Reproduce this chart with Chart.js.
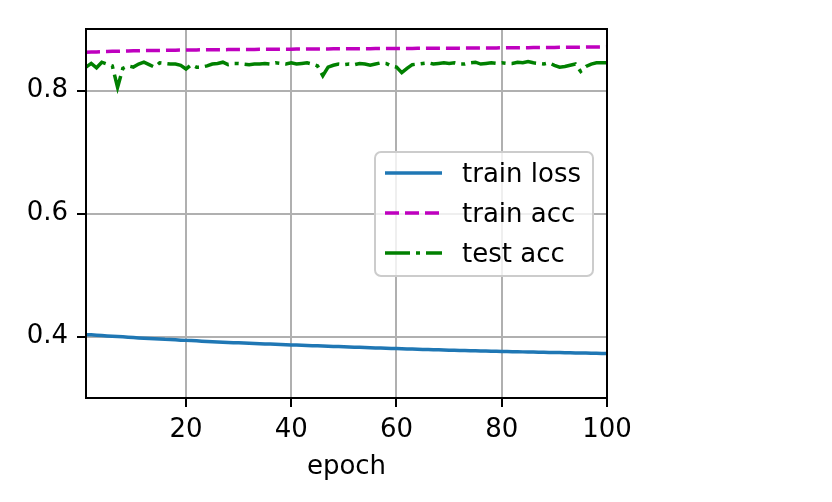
<!DOCTYPE html>
<html>
<head>
<meta charset="utf-8">
<script src="https://cdn.jsdelivr.net/npm/chart.js@4.4.1/dist/chart.umd.min.js"></script>
<style>
  html, body { margin: 0; padding: 0; background: #fff; }
</style>
</head>
<body>
<canvas id="chart" width="832" height="502"></canvas>
<script>
const epochs = Array.from({ length: 100 }, (_, i) => i + 1);

const trainLoss = [
  0.4030, 0.4027, 0.4022, 0.4016, 0.4010, 0.4004, 0.3999, 0.3994, 0.3988, 0.3982,
  0.3977, 0.3973, 0.3969, 0.3965, 0.3961, 0.3955, 0.3952, 0.3946, 0.3941, 0.3937,
  0.3933, 0.3929, 0.3924, 0.3920, 0.3916, 0.3912, 0.3908, 0.3904, 0.3900, 0.3897,
  0.3894, 0.3890, 0.3887, 0.3884, 0.3880, 0.3877, 0.3873, 0.3870, 0.3866, 0.3863,
  0.3860, 0.3857, 0.3854, 0.3851, 0.3848, 0.3845, 0.3842, 0.3839, 0.3836, 0.3833,
  0.3830, 0.3827, 0.3824, 0.3821, 0.3818, 0.3815, 0.3812, 0.3809, 0.3806, 0.3803,
  0.3800, 0.3798, 0.3795, 0.3793, 0.3790, 0.3788, 0.3785, 0.3783, 0.3781, 0.3778,
  0.3776, 0.3774, 0.3772, 0.3770, 0.3768, 0.3766, 0.3764, 0.3762, 0.3760, 0.3758,
  0.3756, 0.3754, 0.3752, 0.3750, 0.3748, 0.3746, 0.3745, 0.3743, 0.3741, 0.3739,
  0.3738, 0.3736, 0.3735, 0.3733, 0.3731, 0.3730, 0.3728, 0.3727, 0.3725, 0.3724
];

const trainAcc = [
  0.8620, 0.8625, 0.8628, 0.8632, 0.8634, 0.8637, 0.8639, 0.8641, 0.8643, 0.8645,
  0.8646, 0.8648, 0.8649, 0.8651, 0.8652, 0.8653, 0.8655, 0.8656, 0.8657, 0.8658,
  0.8659, 0.8660, 0.8661, 0.8662, 0.8662, 0.8663, 0.8664, 0.8665, 0.8665, 0.8666,
  0.8667, 0.8667, 0.8668, 0.8669, 0.8669, 0.8670, 0.8670, 0.8671, 0.8672, 0.8672,
  0.8673, 0.8673, 0.8674, 0.8674, 0.8675, 0.8676, 0.8676, 0.8677, 0.8677, 0.8678,
  0.8678, 0.8679, 0.8679, 0.8680, 0.8680, 0.8681, 0.8681, 0.8682, 0.8682, 0.8683,
  0.8683, 0.8684, 0.8684, 0.8685, 0.8685, 0.8686, 0.8686, 0.8687, 0.8688, 0.8688,
  0.8689, 0.8689, 0.8690, 0.8690, 0.8691, 0.8692, 0.8692, 0.8693, 0.8693, 0.8694,
  0.8695, 0.8695, 0.8696, 0.8697, 0.8697, 0.8698, 0.8699, 0.8699, 0.8700, 0.8701,
  0.8702, 0.8702, 0.8703, 0.8704, 0.8705, 0.8706, 0.8707, 0.8708, 0.8709, 0.8711
];

const testAcc = [
  0.838, 0.844, 0.837, 0.846, 0.843, 0.840, 0.805, 0.836, 0.840, 0.838,
  0.843, 0.846, 0.842, 0.838, 0.845, 0.844, 0.843, 0.843, 0.841, 0.835,
  0.842, 0.838, 0.838, 0.840, 0.843, 0.844, 0.846, 0.842, 0.844, 0.844,
  0.843, 0.842, 0.843, 0.843, 0.844, 0.843, 0.845, 0.844, 0.843, 0.845,
  0.843, 0.844, 0.845, 0.843, 0.840, 0.824, 0.838, 0.841, 0.843, 0.842,
  0.843, 0.842, 0.844, 0.843, 0.841, 0.843, 0.845, 0.844, 0.840, 0.838,
  0.829, 0.836, 0.842, 0.843, 0.844, 0.845, 0.843, 0.844, 0.845, 0.844,
  0.845, 0.843, 0.843, 0.845, 0.846, 0.843, 0.844, 0.845, 0.844, 0.845,
  0.844, 0.844, 0.846, 0.845, 0.847, 0.845, 0.844, 0.843, 0.845, 0.841,
  0.838, 0.839, 0.841, 0.843, 0.831, 0.839, 0.843, 0.845, 0.845, 0.845
];

const xTicks = [20, 40, 60, 80, 100];
const yTicks = [0.4, 0.6, 0.8];

const FONT = "'DejaVu Sans', sans-serif";
Chart.defaults.font.family = FONT;
Chart.defaults.font.size = 26;
Chart.defaults.color = "#000";

const toPoints = (ys) => ys.map((y, i) => ({ x: epochs[i], y }));

// top/right spines and the legend box, drawn on top like matplotlib does
const frameAndLegend = {
  id: "frameAndLegend",
  afterDraw(chart) {
    const { ctx, chartArea: a } = chart;
    ctx.save();
    ctx.strokeStyle = "#000";
    ctx.lineWidth = 2;
    ctx.strokeRect(a.left, a.top, a.right - a.left, a.bottom - a.top);

    // legend
    const bx = 375, by = 152, bw = 218, bh = 124, r = 6;
    ctx.beginPath();
    ctx.roundRect(bx, by, bw, bh, r);
    ctx.fillStyle = "rgba(255,255,255,0.8)";
    ctx.fill();
    ctx.strokeStyle = "#cccccc";
    ctx.lineWidth = 2;
    ctx.stroke();

    ctx.font = "26px " + FONT;
    ctx.textBaseline = "middle";
    ctx.textAlign = "left";
    chart.data.datasets.forEach((ds, i) => {
      const y = 173 + i * 40;
      ctx.beginPath();
      ctx.setLineDash(ds.borderDash || []);
      ctx.strokeStyle = ds.borderColor;
      ctx.lineWidth = ds.borderWidth;
      ctx.moveTo(385, y);
      ctx.lineTo(442, y);
      ctx.stroke();
      ctx.setLineDash([]);
      ctx.fillStyle = "#000";
      ctx.fillText(ds.label, 462, y + 2);
    });
    ctx.restore();
  }
};

new Chart(document.getElementById("chart"), {
  type: "line",
  data: {
    datasets: [
      {
        label: "train loss",
        data: toPoints(trainLoss),
        borderColor: "#1f77b4",
        borderWidth: 3.5,
        pointRadius: 0,
        tension: 0
      },
      {
        label: "train acc",
        data: toPoints(trainAcc),
        borderColor: "#bf00bf",
        borderWidth: 3.5,
        borderDash: [14, 6],
        pointRadius: 0,
        tension: 0
      },
      {
        label: "test acc",
        data: toPoints(testAcc),
        borderColor: "#008000",
        borderWidth: 3.5,
        borderDash: [25, 6, 4, 6],
        pointRadius: 0,
        tension: 0
      }
    ]
  },
  options: {
    responsive: false,
    animation: false,
    layout: { padding: { left: 0, right: 225, top: 29, bottom: 0 } },
    plugins: {
      legend: { display: false },
      tooltip: { enabled: false }
    },
    scales: {
      x: {
        type: "linear",
        min: 1,
        max: 100,
        afterBuildTicks: (s) => { s.ticks = xTicks.map(v => ({ value: v })); },
        afterFit: (s) => { s.height = 104; },
        ticks: { padding: 8, maxRotation: 0, font: { size: 26 } },
        grid: { color: "#b0b0b0", lineWidth: 2, tickLength: 9, tickColor: "#000", tickWidth: 2 },
        border: { color: "#000", width: 2 },
        title: { display: true, text: "epoch", font: { size: 26 }, padding: { top: 0, bottom: 19 } }
      },
      y: {
        min: 0.3,
        max: 0.9,
        afterBuildTicks: (s) => { s.ticks = yTicks.map(v => ({ value: v })); },
        afterFit: (s) => { s.width = 86; },
        ticks: { padding: 9, font: { size: 26 }, callback: (v) => v.toFixed(1) },
        grid: { color: "#b0b0b0", lineWidth: 2, tickLength: 9, tickColor: "#000", tickWidth: 2 },
        border: { color: "#000", width: 2 }
      }
    }
  },
  plugins: [frameAndLegend]
});
</script>
</body>
</html>
